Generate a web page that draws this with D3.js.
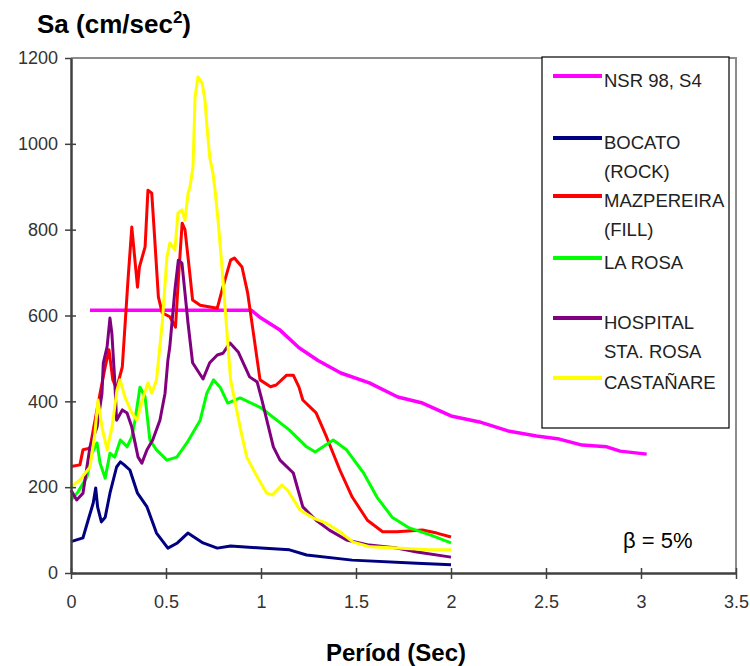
<!DOCTYPE html>
<html><head><meta charset="utf-8">
<script src="https://cdn.jsdelivr.net/npm/d3@7"></script>
<style>body{margin:0;background:#fff;} svg{display:block;font-family:"Liberation Sans",Arial,sans-serif;}</style>
</head><body><svg id="c" width="750" height="666"></svg>
<script>
// ---- data ----
const seriesNames = ["NSR 98, S4","BOCATO (ROCK)","MAZPEREIRA (FILL)","LA ROSA","HOSPITAL STA. ROSA","CASTAÑARE"];
const seriesColors = ["#FF00FF","#000080","#FF0000","#00FF00","#800080","#FFFF00"];
const nsrT  = [0.1,0.95,1.0,1.1,1.2,1.3,1.42,1.57,1.72,1.85,2.0,2.15,2.3,2.45,2.57,2.69,2.82,2.89,3.03];
const nsrSa = [612,612,594,566,525,495,466,443,410,396,366,352,331,319,312,298,294,284,277];
const bocT  = [0,0.063,0.09,0.117,0.13,0.14,0.16,0.18,0.205,0.24,0.26,0.28,0.31,0.35,0.40,0.45,0.51,0.56,0.615,0.695,0.77,0.84,1.0,1.15,1.24,1.48,1.82,2.0];
const bocSa = [73,82,123,163,198,154,119,130,186,247,259,252,240,186,154,93,58,70,93,70,58,63,58,54,42,30,23,19];
const mazT  = [0,0.047,0.063,0.1,0.117,0.153,0.18,0.2,0.22,0.24,0.27,0.3,0.32,0.35,0.36,0.39,0.405,0.425,0.44,0.46,0.48,0.52,0.55,0.565,0.585,0.6,0.625,0.64,0.68,0.77,0.795,0.84,0.86,0.9,0.93,0.96,0.995,1.05,1.08,1.135,1.17,1.2,1.22,1.29,1.345,1.415,1.48,1.56,1.64,1.715,1.85,1.925,2.0];
const mazSa = [248,252,287,291,333,419,480,520,450,430,480,683,806,666,713,760,892,885,783,643,606,597,573,683,815,800,699,636,624,617,659,729,734,713,652,559,450,434,438,461,461,433,403,373,317,240,177,123,96,96,100,93,84];
const rosT  = [0,0.037,0.084,0.11,0.137,0.153,0.18,0.205,0.23,0.26,0.295,0.32,0.337,0.363,0.39,0.415,0.45,0.505,0.557,0.61,0.68,0.715,0.75,0.785,0.825,0.89,1.0,1.15,1.24,1.285,1.38,1.45,1.54,1.61,1.69,1.78,1.89,2.0];
const rosSa = [170,189,224,279,303,256,221,279,270,310,294,317,356,433,410,310,287,263,270,303,356,419,450,433,396,408,385,333,294,282,310,287,233,177,130,105,89,70];
const hosT  = [0,0.03,0.063,0.1,0.137,0.163,0.17,0.19,0.205,0.215,0.23,0.24,0.27,0.295,0.32,0.353,0.373,0.4,0.43,0.468,0.495,0.51,0.52,0.547,0.565,0.584,0.6,0.616,0.64,0.695,0.73,0.77,0.8,0.837,0.88,0.94,0.98,1.005,1.065,1.1,1.17,1.22,1.29,1.36,1.45,1.57,1.715,1.82,2.0];
const hosSa = [193,170,186,294,340,419,489,527,594,559,450,356,380,373,340,270,256,287,310,356,419,496,527,660,729,722,652,582,490,452,490,508,512,536,515,457,445,403,294,263,233,154,123,100,77,65,58,49,37];
const casT  = [0,0.047,0.1,0.126,0.142,0.163,0.19,0.216,0.242,0.258,0.284,0.32,0.347,0.38,0.405,0.425,0.45,0.48,0.505,0.52,0.547,0.563,0.584,0.6,0.616,0.626,0.642,0.653,0.668,0.69,0.705,0.716,0.73,0.747,0.758,0.774,0.8,0.82,0.84,0.89,0.925,0.98,1.03,1.06,1.11,1.14,1.205,1.275,1.345,1.415,1.485,1.575,1.715,1.89,2.0];
const casSa = [200,217,247,326,403,340,287,340,426,450,410,373,356,410,443,419,450,582,736,769,753,839,846,822,885,899,946,1109,1156,1142,1102,1039,969,932,892,822,683,566,450,340,270,224,186,182,205,193,147,128,116,96,72,61,58,54,54];
const xTicks = [0,0.5,1,1.5,2,2.5,3,3.5];
const yTicks = [0,200,400,600,800,1000,1200];

// ---- chart ----
const svg = d3.select("#c");
const L=71, R=736, T=58, B=573;
const x = d3.scaleLinear().domain([0,3.5]).range([L,R]);
const y = d3.scaleLinear().domain([0,1200]).range([B,T]);

// plot border (top/right)
svg.append("path").attr("d",`M${L},${T}H${R}V${B}`).attr("fill","none").attr("stroke","#8c8c8c").attr("stroke-width",2);

const series = [[nsrT,nsrSa],[bocT,bocSa],[mazT,mazSa],[rosT,rosSa],[hosT,hosSa],[casT,casSa]];
const line = d3.line().x(d=>x(d[0])).y(d=>y(d[1]));
series.forEach((s,i)=>{
  const pts = s[0].map((t,j)=>[t,s[1][j]]);
  svg.append("path").datum(pts).attr("d",line).attr("fill","none")
    .attr("stroke",seriesColors[i]).attr("stroke-width",i===0?3.5:3).attr("stroke-linejoin","round");
});

// axes
const yAxis = svg.append("g").attr("transform",`translate(${L},0)`)
  .call(d3.axisLeft(y).tickValues(yTicks).tickSizeInner(6).tickSizeOuter(0).tickPadding(7).tickFormat(d3.format("d")));
yAxis.selectAll(".tick line").attr("x1",d=>d===1200?0:5).attr("x2",-6);
const xAxis = svg.append("g").attr("transform",`translate(0,${B})`)
  .call(d3.axisBottom(x).tickValues(xTicks).tickSizeInner(6).tickSizeOuter(0).tickPadding(16).tickFormat(d=>String(d)));
xAxis.selectAll(".tick line").attr("y1",-5).attr("y2",6);
[yAxis,xAxis].forEach(a=>{
  a.select(".domain").attr("stroke","#404040").attr("stroke-width",2.5);
  a.selectAll(".tick line").attr("stroke","#404040").attr("stroke-width",1.5);
  a.selectAll(".tick text").attr("font-size",18).attr("fill","#333").attr("font-family","Liberation Sans, Arial, sans-serif");
});

// titles
const yt = svg.append("text").attr("x",37).attr("y",33).attr("font-size",26).attr("font-weight","bold").attr("fill","#000");
yt.append("tspan").text("Sa (cm/sec");
yt.append("tspan").text("2").attr("font-size",17).attr("dy",-10);
yt.append("tspan").text(")").attr("dy",10);
svg.append("text").attr("x",396).attr("y",661).attr("text-anchor","middle").attr("font-size",24).attr("font-weight","bold").attr("fill","#000").text("Períod (Sec)");
svg.append("text").attr("x",623).attr("y",548).attr("font-size",22).attr("fill","#000").text("β = 5%");

// legend
svg.append("rect").attr("x",542).attr("y",57).attr("width",187).attr("height",371).attr("fill","#fff").attr("stroke","#000").attr("stroke-width",1.2);
const legY = [76,138,196,258,318,378];
const legLines = [["NSR 98, S4"],["BOCATO","(ROCK)"],["MAZPEREIRA","(FILL)"],["LA ROSA"],["HOSPITAL","STA. ROSA"],["CASTAÑARE"]];
legY.forEach((ly,i)=>{
  svg.append("line").attr("x1",553).attr("x2",602).attr("y1",ly).attr("y2",ly).attr("stroke",seriesColors[i]).attr("stroke-width",4);
  legLines[i].forEach((t,k)=>{
    svg.append("text").attr("x",604).attr("y",ly+11+k*29).attr("font-size",18.5).attr("fill","#222").text(t);
  });
});
</script></body></html>
